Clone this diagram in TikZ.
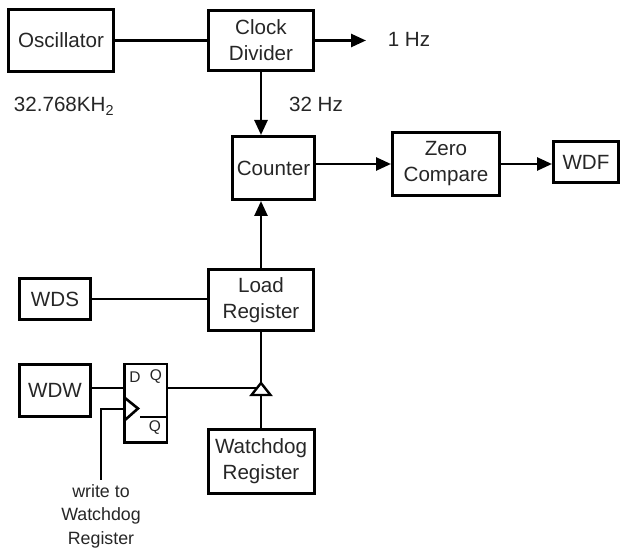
\documentclass[tikz,border=0pt]{standalone}
\usepackage{fontspec}
\setmainfont{Liberation Sans}
\usetikzlibrary{arrows.meta}

\tikzset{
  block/.style={draw, line width=3pt, align=center, inner sep=0pt, text=black!85,
    font=\fontsize{20.6}{26}\selectfont},
  size/.style 2 args={minimum width=#1pt, minimum height=#2pt},
  wire/.style={line width=2.6pt},
  sig/.style={wire, -{Triangle[length=15pt,width=13pt]}},
  lbl/.style={text=black!85, font=\fontsize{20.6}{26}\selectfont, inner sep=0pt, anchor=base},
  pin/.style={text=black!85, font=\fontsize{15.5}{18}\selectfont, inner sep=0pt},
}

\begin{document}
\begin{tikzpicture}[x=1pt, y=-1pt]
  \useasboundingbox (0,0) rectangle (622,553);

  % Clock path
  \node[block, size={105}{62}] (osc) at (61,40.5) {Oscillator};
  \node[block, size={105}{60}] (cd) at (261,40.5) {Clock\\Divider};
  \node[block, size={82}{63}] (cnt) at (273.5,168) {Counter};
  \node[block, size={107}{63}] (zc) at (446,164) {Zero\\Compare};
  \node[block, size={65}{41}] (wdf) at (586,162) {WDF};

  % Load side
  \node[block, size={105}{61}] (lr) at (261,300) {Load\\Register};
  \node[block, size={71}{41}] (wds) at (55,299) {WDS};
  \node[block, size={71}{52}] (wdw) at (55,390.5) {WDW};
  \node[block, size={106}{64}] (wd) at (261,461.5) {Watchdog\\Register};

  % D flip-flop
  \node[draw, line width=1.6pt, size={42}{78}, inner sep=0pt] (ff) at (146,403) {};
  \draw[line width=3pt] (ff.north west) -- (ff.south west) -- (ff.south east);
  \node[pin] (ffd) at (135,377) {D};
  \node[pin] (ffq) at (156,377) {Q};
  \node[pin] (ffqn) at (155,428) {Q};
  \draw[line width=2.6pt, line join=miter] (125,398) -- (138,408.5) -- (125,420);
  \draw[line width=1.4pt] (140,417) -- (ff.east |- 0,417);
  \coordinate (clk) at (125,409);

  % Texts
  \node[lbl] (fin) at (64,112) {32.768KH\textsubscript{2}};
  \node[lbl] (f32) at (316,112) {32 Hz};
  \node[lbl] (f1) at (409,47) {1 Hz};
  \node[text=black!85, font=\fontsize{17.8}{23.5}\selectfont, align=center,
    inner sep=0pt, anchor=north] (wrlbl) at (101,484) {write to\\Watchdog\\Register};

  % Connectors
  \coordinate (hzend) at (366,40.5);
  \draw[wire] (osc.east) -- (cd.west);
  \draw[sig] (cd.east) -- (hzend);
  \draw[sig] (cd.south) -- (cd.south |- cnt.north);
  \draw[sig] (zc.west -| cnt.east) -- (zc.west);
  \draw[sig] (zc.east) -- (zc.east -| wdf.west);
  \draw[sig] (lr.north) -- (lr.north |- cnt.south);
  \draw[wire] (wds.east) -- (wds.east -| lr.west);

  % Watchdog register clock input
  \coordinate (tri) at (261,383);
  \coordinate (trileft) at (257,388);
  \coordinate (tribase) at (261,395);
  \draw[wire] (lr.south) -- (tri);
  \draw[line width=2.4pt, line join=miter] (tri) -- ++(-9.5,12) -- ++(19,0) -- cycle;
  \draw[wire] (tribase) -- (tribase |- wd.north);
  \draw[wire] (trileft -| ff.east) -- (trileft);
  \draw[wire] (trileft -| wdw.east) -- (trileft -| ff.west);
  \draw[wire] ([yshift=4pt]wrlbl.north) |- (clk);
\end{tikzpicture}
\end{document}
